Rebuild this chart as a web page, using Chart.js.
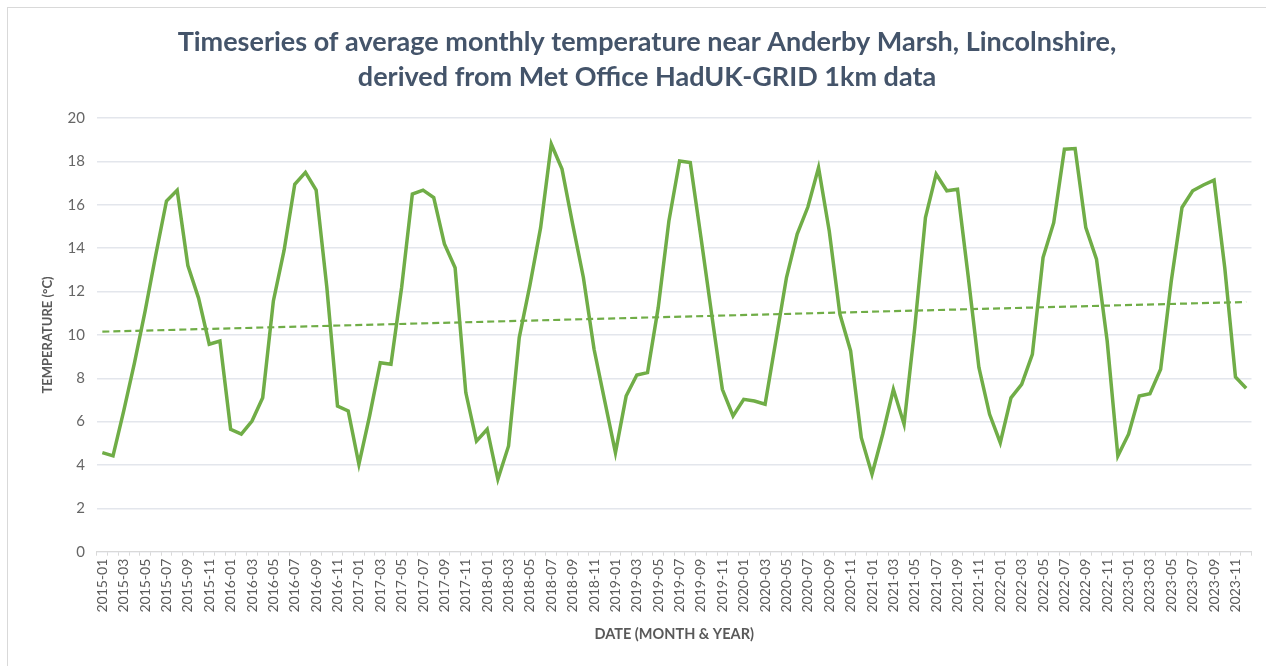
<!DOCTYPE html>
<html>
<head>
<meta charset="utf-8">
<script src="https://cdn.jsdelivr.net/npm/chart.js@4"></script>
<style>
  html, body { margin: 0; padding: 0; background: #ffffff; }
  #wrap { position: absolute; left: 7px; top: 7px; width: 1270px; height: 670px; border: 1px solid #d9d9d9; box-sizing: border-box; }
  #box { position: absolute; left: 0; top: 0; width: 1266px; height: 666px; }
</style>
</head>
<body>
<div id="wrap"></div>
<div id="box"><canvas id="c" width="1266" height="666"></canvas></div>
<script>
const years = [2015, 2016, 2017, 2018, 2019, 2020, 2021, 2022, 2023];
const months = ['01','02','03','04','05','06','07','08','09','10','11','12'];
const categories = [];
years.forEach(y => months.forEach(m => categories.push(y + '-' + m)));

const temperature = [
  4.57, 4.42, 6.5, 8.7, 11.1, 13.7, 16.18, 16.68, 13.2, 11.7, 9.57, 9.72,
  5.65, 5.42, 6.03, 7.1, 11.57, 13.9, 16.95, 17.5, 16.68, 12.2, 6.72, 6.49,
  4.03, 6.26, 8.72, 8.65, 12.2, 16.5, 16.68, 16.34, 14.2, 13.1, 7.34, 5.1,
  5.65, 3.34, 4.88, 9.88, 12.3, 14.95, 18.8, 17.65, 15.1, 12.65, 9.34, 6.95,
  4.57, 7.18, 8.15, 8.26, 11.26, 15.26, 18.03, 17.95, 14.5, 10.95, 7.49, 6.26,
  7.03, 6.95, 6.8, 9.72, 12.65, 14.65, 15.9, 17.72, 14.8, 10.95, 9.26, 5.26,
  3.57, 5.42, 7.49, 5.88, 10.34, 15.42, 17.42, 16.65, 16.72, 12.7, 8.5, 6.34,
  5.03, 7.1, 7.72, 9.1, 13.57, 15.18, 18.57, 18.6, 14.95, 13.5, 9.72, 4.42,
  5.42, 7.18, 7.29, 8.42, 12.5, 15.88, 16.65, 16.92, 17.14, 13.1, 8.06, 7.54
];

// Linear trendline end values (first and last month)
const trendEnds = [10.15, 11.52];
const trend = categories.map((c, i) => i === 0 ? trendEnds[0] : (i === categories.length - 1 ? trendEnds[1] : null));

const yTicks = [0, 2, 4, 6, 8, 10, 12, 14, 16, 18, 20];
const titleLines = ['Timeseries of average monthly temperature near Anderby Marsh, Lincolnshire,', 'derived from Met Office HadUK-GRID 1km data'];
const xTitle = 'DATE (MONTH & YEAR)';
const yTitle = 'TEMPERATURE (°C)';

const FONT = 'Lato, "Open Sans", "Noto Sans", sans-serif';

new Chart(document.getElementById('c'), {
  type: 'line',
  data: {
    labels: categories,
    datasets: [
      {
        label: 'Temperature',
        data: temperature,
        borderColor: '#70ad47',
        borderWidth: 3.5,
        pointRadius: 0,
        tension: 0,
        fill: false
      },
      {
        label: 'Trend',
        data: trend,
        spanGaps: true,
        borderColor: '#70ad47',
        borderWidth: 2.2,
        borderDash: [7, 4],
        pointRadius: 0,
        fill: false
      }
    ]
  },
  options: {
    responsive: false,
    animation: false,
    events: [],
    layout: { padding: { left: 40, right: 12, top: 6, bottom: 19 } },
    plugins: {
      legend: { display: false },
      tooltip: { enabled: false },
      title: {
        display: true,
        text: titleLines,
        color: '#44546a',
        font: { family: FONT, size: 27, weight: 'bold', lineHeight: 1.3 },
        padding: { top: 19, bottom: 23 }
      }
    },
    scales: {
      x: {
        offset: true,
        grid: { display: true, drawOnChartArea: false, drawTicks: true, tickLength: 4, color: '#d9d9d9', offset: true },
        border: { display: true, color: '#d9d9d9', width: 1 },
        ticks: {
          autoSkip: false,
          maxRotation: 90,
          minRotation: 90,
          color: '#595959',
          font: { family: FONT, size: 14 },
          padding: 3,
          callback: function(v, i) { return i % 2 === 0 ? categories[i] : ''; }
        },
        title: {
          display: true,
          text: xTitle,
          color: '#595959',
          font: { family: FONT, size: 14.5, weight: 'bold' },
          padding: { top: 10 }
        }
      },
      y: {
        min: 0,
        max: 20,
        afterBuildTicks: function(axis) { axis.ticks = yTicks.map(v => ({ value: v })); },
        grid: { color: '#e3e6ec', lineWidth: 1.5, drawTicks: false },
        border: { display: false },
        ticks: {
          color: '#666666',
          font: { family: FONT, size: 15 },
          padding: 12
        },
        title: {
          display: true,
          text: yTitle,
          color: '#595959',
          font: { family: FONT, size: 13, weight: 'bold' },
          padding: { top: 0, bottom: 0 }
        }
      }
    }
  }
});
</script>
</body>
</html>
